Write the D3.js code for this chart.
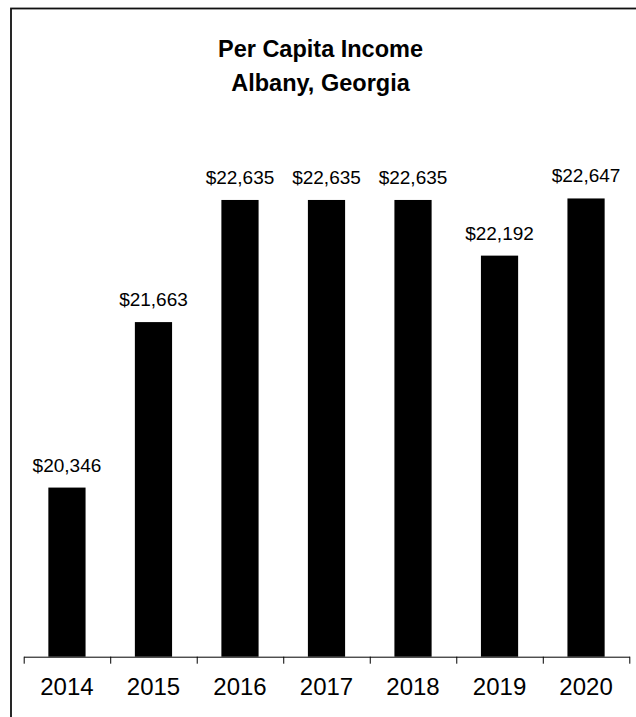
<!DOCTYPE html>
<html>
<head>
<meta charset="utf-8">
<script src="https://cdn.jsdelivr.net/npm/d3@7"></script>
<style>
  html, body { margin: 0; padding: 0; background: #fff; }
  svg { display: block; font-family: "Liberation Sans", Arial, sans-serif; }
</style>
</head>
<body>
<svg id="chart" width="636" height="717"></svg>
<script>
// Per capita income, Albany, Georgia
const years = ["2014", "2015", "2016", "2017", "2018", "2019", "2020"];
const income = [20346, 21663, 22635, 22635, 22635, 22192, 22647];
const titleLines = ["Per Capita Income", "Albany, Georgia"];
const yDomain = [19000, 23000];

const svg = d3.select("#chart");
const W = 636, H = 717;

// outer frame (runs off the right and bottom edges)
svg.append("rect")
  .attr("x", 11).attr("y", 8.5)
  .attr("width", 700).attr("height", 800)
  .attr("fill", "none")
  .attr("stroke", "#111")
  .attr("stroke-width", 1.8);

const plot = { left: 23.7, right: 629.3, bottom: 656.7, top: 154.1 };

const x = d3.scaleBand()
  .domain(years)
  .range([plot.left, plot.right])
  .paddingInner(0.57)
  .paddingOuter(0.285);

const y = d3.scaleLinear()
  .domain(yDomain)
  .range([plot.bottom, plot.top]);

const data = years.map((yr, i) => ({ year: yr, value: income[i] }));

// title
svg.append("text")
  .attr("x", 320.5)
  .attr("font-size", 23.5)
  .attr("font-weight", "bold")
  .attr("text-anchor", "middle")
  .selectAll("tspan")
  .data(titleLines)
  .join("tspan")
  .attr("x", 320.5)
  .attr("y", (d, i) => 57.3 + i * 33.4)
  .text(d => d);

// bars
svg.append("g")
  .selectAll("rect")
  .data(data)
  .join("rect")
  .attr("x", d => x(d.year))
  .attr("y", d => y(d.value))
  .attr("width", x.bandwidth())
  .attr("height", d => y(yDomain[0]) - y(d.value))
  .attr("fill", "#000");

// value labels
const fmt = d3.format("$,");
svg.append("g")
  .selectAll("text")
  .data(data)
  .join("text")
  .attr("x", d => x(d.year) + x.bandwidth() / 2)
  .attr("y", d => y(d.value) - 16)
  .attr("text-anchor", "middle")
  .attr("font-size", 19)
  .attr("fill", "#000")
  .text(d => fmt(d.value));

// category axis: tick marks sit between categories
const edges = d3.scaleLinear().domain([0, years.length]).range([plot.left, plot.right]);
svg.append("g")
  .attr("transform", `translate(0,${plot.bottom})`)
  .call(d3.axisBottom(edges)
    .tickValues(d3.range(years.length + 1))
    .tickFormat("")
    .tickSize(7)
    .tickSizeOuter(0))
  .call(g => g.selectAll("path, line").attr("stroke", "#000").attr("stroke-width", 1));

// category labels
svg.append("g")
  .attr("transform", `translate(0,${plot.bottom})`)
  .call(d3.axisBottom(x).tickSize(0).tickPadding(0))
  .call(g => g.select(".domain").remove())
  .call(g => g.selectAll("text")
    .attr("font-size", 24)
    .attr("font-family", "'Liberation Sans', Arial, sans-serif")
    .attr("fill", "#000")
    .attr("dy", null)
    .attr("y", 38.3));
</script>
</body>
</html>
